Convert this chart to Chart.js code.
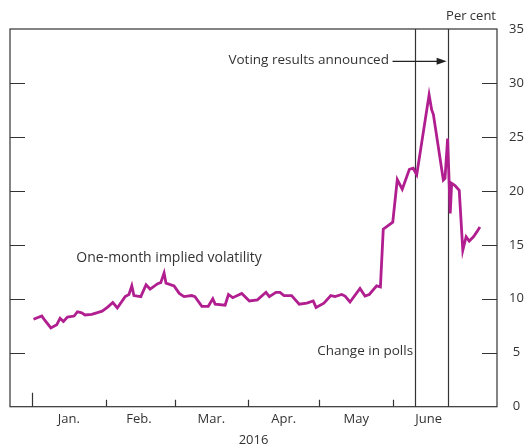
<!DOCTYPE html>
<html><head><meta charset="utf-8">
<script src="https://cdn.jsdelivr.net/npm/chart.js@4.4.1/dist/chart.umd.min.js"></script>
<style>html,body{margin:0;padding:0;background:#fff}#wrap{width:528px;height:448px}</style>
</head><body><div id="wrap"><canvas id="c" width="528" height="448"></canvas></div>
<script>
// Day of year 2016 (0 = 1 January) and one-month implied volatility (per cent)
const days = [0.6,4.1,5.1,7.9,10.4,11.8,13.2,14.9,17.7,19.1,
  20.9,22.3,25.1,27.2,29.5,31.7,34.0,35.9,39.2,40.8,
  42.0,42.9,45.8,48.0,49.7,52.9,54.2,55.6,56.4,59.8,
  62.0,64.0,67.2,68.6,71.5,74.2,76.1,77.1,81.3,82.7,
  84.5,88.3,91.5,94.9,98.5,99.9,102.7,104.4,106.1,109.3,
  112.5,115.7,118.4,119.6,122.9,125.8,127.6,130.4,131.8,133.9,
  138.1,140.2,142.0,145.1,146.7,147.9,151.9,153.8,155.9,158.9,
  160.5,162.0,167.2,168.3,169.0,173.2,173.9,175.0,176.1,176.7,
  178.1,179.9,181.4,182.8,184.1,185.9,187.3,188.6];
const volatility = [8.1,8.4,8.1,7.3,7.6,8.2,7.9,8.3,8.4,8.8,
  8.7,8.5,8.55,8.7,8.85,9.2,9.65,9.15,10.2,10.4,
  11.2,10.3,10.2,11.3,10.9,11.4,11.5,12.4,11.45,11.2,
  10.5,10.2,10.3,10.2,9.3,9.3,10.0,9.5,9.4,10.4,
  10.1,10.5,9.8,9.9,10.6,10.2,10.6,10.6,10.3,10.3,
  9.5,9.6,9.8,9.2,9.6,10.3,10.2,10.4,10.25,9.7,
  10.95,10.25,10.4,11.2,11.1,16.45,17.1,21.05,20.15,22.0,
  22.1,21.5,28.9,27.5,27.1,21.0,21.15,24.85,17.9,20.7,
  20.5,20.05,14.5,15.75,15.35,15.75,16.2,16.65];
const monthNames = ['Jan.','Feb.','Mar.','Apr.','May','June'];
const monthStarts = [0,31,60,91,121,152];
const monthMids = [15.5,45,75.5,106,136.5,167];
const yTicks = [0,5,10,15,20,25,30,35];
const pollsDay = 161.3;     // change in polls
const resultsDay = 175;     // 24 June, results announced
const yearLabel = '2016';
const unitLabel = 'Per cent';
const seriesLabel = 'One-month implied volatility';
const pollsLabel = 'Change in polls';
const resultsLabel = 'Voting results announced';

const FONT = '"Open Sans", "Noto Sans", sans-serif';
const TXT = '#333333';
const LINE = '#B01E8F';

const overlay = {
  id: 'overlay',
  beforeDatasetsDraw(chart) {
    const {ctx, chartArea: a, scales: {x, y}} = chart;
    ctx.save();
    ctx.strokeStyle = '#333';
    ctx.lineWidth = 1.2;
    ctx.strokeRect(a.left, a.top, a.right - a.left, a.bottom - a.top);
    ctx.beginPath();
    yTicks.forEach(v => {
      if (v <= 0 || v >= 35) return;
      const py = Math.round(y.getPixelForValue(v)) + 0.5;
      ctx.moveTo(a.left, py); ctx.lineTo(a.left + 15, py);
      ctx.moveTo(a.right, py); ctx.lineTo(a.right - 15, py);
    });
    monthStarts.forEach((d, i) => {
      const px = Math.round(x.getPixelForValue(d)) + 0.5;
      ctx.moveTo(px, a.bottom); ctx.lineTo(px, a.bottom - (i === 0 ? 14 : 7));
    });
    [pollsDay, resultsDay].forEach(d => {
      const px = Math.round(x.getPixelForValue(d)) + 0.5;
      ctx.moveTo(px, a.top); ctx.lineTo(px, a.bottom);
    });
    ctx.stroke();
    ctx.restore();
  },
  afterDraw(chart) {
    const {ctx, chartArea: a, scales: {x, y}} = chart;
    ctx.save();
    ctx.fillStyle = TXT;
    ctx.textBaseline = 'middle';
    ctx.textAlign = 'center';
    ctx.font = '14px ' + FONT;
    ctx.fillText(seriesLabel, x.getPixelForValue(57.7), y.getPixelForValue(13.75));
    ctx.font = '13.5px ' + FONT;
    ctx.textAlign = 'right';
    ctx.fillText(pollsLabel, x.getPixelForValue(pollsDay) - 2, y.getPixelForValue(5.15));
    const ay = y.getPixelForValue(32.0);
    ctx.fillText(resultsLabel, x.getPixelForValue(150.3), ay - 1);
    ctx.font = '13px ' + FONT;
    ctx.fillText(unitLabel, a.right - 1, 16);
    // arrow
    const x0 = x.getPixelForValue(151.8), x1 = x.getPixelForValue(resultsDay) - 1;
    ctx.strokeStyle = '#222'; ctx.lineWidth = 1.2;
    ctx.beginPath(); ctx.moveTo(x0, ay); ctx.lineTo(x1 - 6, ay); ctx.stroke();
    ctx.fillStyle = '#222';
    ctx.beginPath(); ctx.moveTo(x1, ay); ctx.lineTo(x1 - 10, ay - 3.5); ctx.lineTo(x1 - 10, ay + 3.5); ctx.closePath(); ctx.fill();
    ctx.restore();
  }
};

new Chart(document.getElementById('c'), {
  type: 'line',
  data: {
    datasets: [{
      label: seriesLabel,
      data: days.map((d, i) => ({x: d, y: volatility[i]})),
      borderColor: LINE,
      borderWidth: 2.8,
      pointRadius: 0,
      tension: 0,
      fill: false
    }]
  },
  options: {
    responsive: false,
    animation: false,
    devicePixelRatio: 1,
    layout: {padding: {top: 29, left: 10, right: 0, bottom: 0}},
    plugins: {legend: {display: false}, tooltip: {enabled: false}},
    scales: {
      x: {
        type: 'linear', min: -9.3, max: 195.8, position: 'bottom',
        grid: {display: false, drawTicks: false}, border: {display: false},
        afterBuildTicks: s => { s.ticks = monthMids.map(v => ({value: v})); },
        afterFit: s => { s.height = 41.3; },
        ticks: {
          autoSkip: false, maxRotation: 0, padding: 5, color: TXT,
          font: {family: FONT, size: 13},
          callback: v => { const i = monthMids.indexOf(v); return i >= 0 ? monthNames[i] : ''; }
        },
        title: {display: true, text: yearLabel, color: TXT, font: {family: FONT, size: 13}, padding: {top: 0, bottom: 0}}
      },
      y: {
        type: 'linear', min: 0, max: 35, position: 'right',
        grid: {display: false, drawTicks: false}, border: {display: false},
        afterBuildTicks: s => { s.ticks = yTicks.map(v => ({value: v})); },
        afterFit: s => { s.width = 31; },
        ticks: {padding: 12, crossAlign: 'center', color: TXT, font: {family: FONT, size: 13}}
      }
    }
  },
  plugins: [overlay]
});
</script>
</body></html>
